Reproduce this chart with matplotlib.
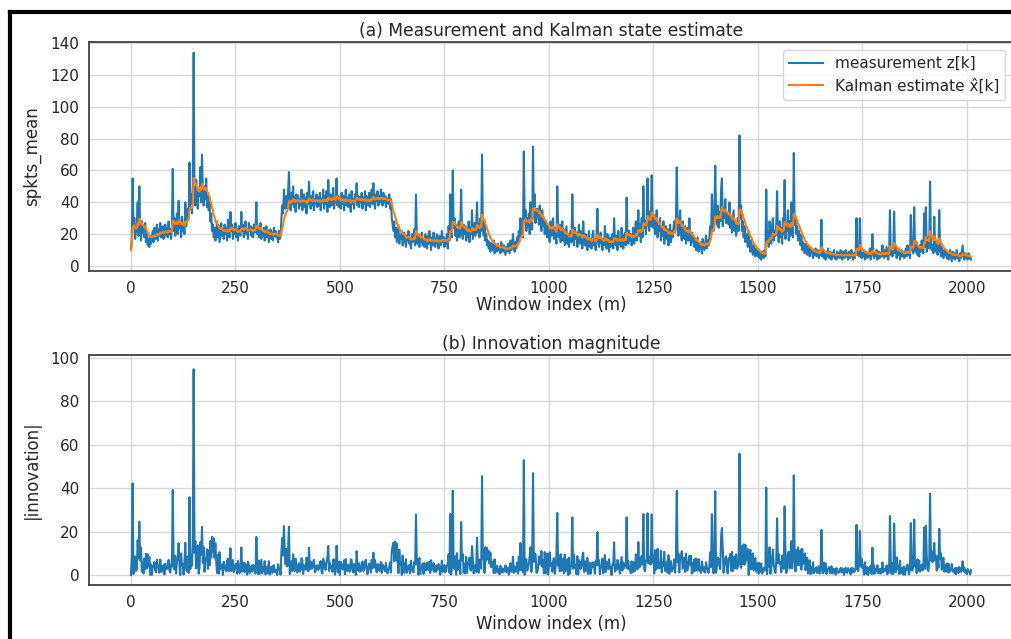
import numpy as np
import matplotlib
matplotlib.use("Agg")
import matplotlib.pyplot as plt
from matplotlib.lines import Line2D

# spkts_mean measurement z[k], one value every 2 windows (0..2010)
z_meas = [
    10, 18, 55, 24, 30, 17, 22, 26, 40, 19, 50, 23, 16, 28, 21, 25, 18, 27, 15, 20, 13, 17, 12, 19, 14,
    18, 22, 15, 24, 17, 20, 26, 16, 23, 19, 27, 18, 22, 25, 17, 21, 26, 19, 24, 18, 28, 20, 23, 17, 25,
    61, 22, 30, 19, 27, 33, 20, 41, 24, 28, 18, 31, 22, 26, 20, 40, 25, 29, 36, 30, 65, 38, 45, 33, 52,
    134, 45, 38, 54, 41, 36, 48, 44, 62, 40, 70, 46, 38, 50, 42, 55, 37, 44, 35, 40, 28, 33, 22, 26, 18,
    24, 16, 22, 28, 18, 25, 15, 21, 27, 19, 23, 17, 26, 20, 24, 16, 29, 21, 18, 34, 22, 26, 17, 24, 20,
    27, 18, 23, 16, 25, 21, 19, 34, 22, 26, 18, 24, 28, 20, 23, 17, 27, 22, 25, 19, 24, 18, 26, 21, 23,
    40, 20, 25, 18, 23, 27, 17, 22, 19, 24, 16, 21, 25, 18, 22, 15, 20, 23, 17, 21, 16, 24, 19, 22, 18,
    20, 15, 22, 17, 19, 30, 38, 33, 48, 40, 36, 44, 38, 47, 59, 41, 35, 46, 39, 50, 37, 43, 34, 45, 40,
    44, 36, 42, 38, 48, 35, 41, 45, 37, 43, 33, 46, 39, 53, 40, 36, 44, 38, 47, 35, 42, 39, 45, 37, 43,
    38, 46, 35, 42, 40, 48, 36, 44, 39, 47, 34, 54, 41, 37, 45, 38, 43, 49, 36, 42, 40, 55, 38, 44, 37,
    42, 36, 46, 39, 44, 35, 41, 48, 38, 43, 37, 45, 40, 34, 47, 39, 42, 36, 45, 41, 52, 38, 44, 37, 43,
    40, 46, 36, 43, 39, 47, 35, 44, 41, 38, 46, 37, 42, 48, 39, 52, 40, 36, 45, 41, 47, 38, 44, 40, 48,
    42, 38, 46, 40, 44, 37, 43, 41, 39, 45, 36, 42, 30, 26, 22, 28, 18, 24, 15, 20, 25, 14, 19, 17, 22,
    13, 18, 21, 15, 12, 19, 16, 22, 14, 17, 11, 20, 15, 18, 23, 13, 45, 17, 14, 20, 12, 18, 15, 21, 13,
    17, 12, 20, 15, 11, 19, 14, 22, 16, 10, 18, 13, 21, 15, 12, 17, 20, 14, 11, 19, 16, 13, 22, 15, 18,
    12, 17, 14, 20, 11, 25, 16, 45, 22, 18, 60, 24, 30, 19, 26, 16, 22, 28, 18, 24, 48, 21, 17, 26, 20,
    25, 16, 22, 18, 28, 15, 24, 20, 35, 17, 22, 27, 19, 24, 40, 21, 26, 18, 30, 22, 70, 25, 19, 28, 16,
    20, 13, 16, 11, 15, 9, 14, 12, 10, 16, 8, 13, 11, 9, 14, 10, 12, 8, 15, 11, 9, 13, 10, 7, 12,
    9, 14, 11, 8, 16, 10, 13, 20, 12, 9, 15, 11, 18, 14, 22, 17, 30, 20, 25, 18, 72, 28, 35, 22, 30,
    25, 33, 20, 40, 28, 23, 75, 30, 45, 27, 34, 36, 32, 26, 38, 29, 22, 35, 25, 30, 20, 28, 24, 18, 26,
    22, 15, 28, 19, 25, 30, 17, 24, 20, 14, 50, 22, 18, 26, 15, 21, 28, 16, 23, 13, 19, 25, 14, 20, 12,
    18, 22, 15, 45, 20, 13, 24, 17, 21, 12, 19, 26, 14, 22, 16, 11, 28, 18, 13, 20, 15, 10, 17, 22, 12,
    16, 11, 19, 22, 13, 17, 10, 20, 36, 15, 12, 18, 21, 14, 10, 17, 13, 25, 16, 11, 20, 14, 9, 18, 12,
    15, 20, 11, 30, 16, 13, 19, 10, 22, 14, 17, 12, 24, 15, 11, 19, 21, 13, 43, 18, 14, 22, 16, 20, 13,
    17, 24, 14, 20, 28, 16, 22, 35, 19, 26, 15, 30, 18, 50, 24, 28, 20, 32, 55, 26, 22, 34, 25, 57, 28,
    24, 32, 20, 27, 35, 18, 25, 22, 30, 16, 24, 19, 28, 14, 21, 25, 17, 23, 13, 20, 26, 15, 22, 18, 24,
    28, 21, 30, 62, 24, 19, 26, 35, 20, 16, 28, 22, 17, 25, 14, 20, 24, 16, 30, 18, 13, 21, 15, 18, 12,
    16, 10, 14, 18, 9, 13, 11, 15, 8, 17, 12, 10, 14, 19, 11, 16, 13, 18, 25, 20, 45, 28, 22, 33, 63,
    30, 26, 38, 24, 34, 28, 48, 55, 25, 36, 30, 42, 27, 32, 33, 26, 40, 24, 30, 21, 28, 35, 22, 26, 19,
    24, 30, 22, 82, 30, 38, 22, 28, 18, 25, 15, 20, 17, 12, 22, 14, 9, 16, 11, 7, 13, 9, 6, 11, 8,
    6, 10, 5, 8, 4, 9, 7, 5, 10, 6, 48, 15, 22, 12, 28, 18, 14, 25, 30, 16, 22, 19, 26, 47, 20,
    15, 28, 18, 24, 14, 30, 20, 54, 17, 25, 22, 35, 16, 28, 19, 40, 24, 18, 71, 26, 30, 20, 25, 16, 22,
    18, 13, 20, 10, 15, 12, 8, 14, 11, 7, 13, 9, 6, 12, 8, 10, 5, 9, 7, 11, 6, 8, 10, 5, 9,
    7, 29, 6, 10, 5, 8, 4, 9, 6, 11, 5, 7, 9, 4, 8, 6, 10, 5, 7, 4, 9, 6, 8, 5, 10,
    6, 4, 9, 7, 5, 10, 6, 8, 4, 9, 5, 7, 10, 6, 4, 8, 5, 9, 30, 7, 12, 6, 30, 9, 5,
    8, 6, 10, 4, 7, 9, 5, 8, 6, 11, 4, 7, 20, 9, 5, 8, 6, 10, 4, 7, 9, 5, 8, 6, 13,
    7, 5, 10, 6, 12, 8, 4, 9, 35, 7, 11, 6, 10, 34, 8, 12, 5, 9, 7, 11, 4, 8, 10, 6, 9,
    5, 8, 11, 6, 13, 7, 9, 5, 32, 10, 14, 8, 37, 12, 9, 15, 7, 11, 6, 13, 9, 16, 10, 8, 33,
    12, 37, 9, 14, 18, 11, 53, 15, 10, 13, 8, 31, 12, 9, 14, 7, 11, 35, 10, 6, 12, 8, 5, 10, 7,
    9, 5, 8, 4, 7, 10, 6, 3, 9, 5, 8, 4, 7, 10, 5, 6, 3, 8, 5, 9, 13, 6, 4, 8, 5,
    7, 4, 8, 5, 6, 4,
]
window_idx = np.arange(len(z_meas)) * 2

# scalar Kalman filter, random-walk state model
Q, R = 3.5, 100.0
z = np.array(z_meas, dtype=float)
x_hat = np.zeros_like(z)
innov = np.zeros_like(z)
x, P = z[0], 100.0
for k in range(len(z)):
    x_prior = x
    P_prior = P + Q if k > 0 else P
    innov[k] = z[k] - x_prior
    K = P_prior / (P_prior + R)
    x = x_prior + K * innov[k]
    P = (1 - K) * P_prior
    x_hat[k] = x

blue = "#1f77b4"
orange = "#ff7f0e"
dark = "#262626"

plt.rcParams.update({
    "font.family": "DejaVu Sans",
    "axes.edgecolor": "#3a3a3a",
    "axes.linewidth": 1.25,
    "grid.color": "#d8d8d8",
    "grid.linewidth": 1.0,
    "xtick.major.size": 0,
    "ytick.major.size": 0,
    "xtick.major.pad": 7,
    "ytick.major.pad": 7,
    "xtick.color": dark,
    "ytick.color": dark,
    "axes.labelcolor": dark,
    "text.color": dark,
})

fig = plt.figure(figsize=(10.11, 6.39), dpi=100)
ax1 = fig.add_axes([0.088, 0.576, 0.914, 0.358])
ax2 = fig.add_axes([0.088, 0.0845, 0.914, 0.36])

ax1.plot(window_idx, z, color=blue, lw=1.5, label="measurement z[k]")
ax1.plot(window_idx, x_hat, color=orange, lw=1.5, label="Kalman estimate x\u0302[k]")
ax1.set_ylim(-3.1, 140.6)
ax1.set_yticks(np.arange(0, 141, 20))
ax1.set_title("(a) Measurement and Kalman state estimate", fontsize=12.3, pad=4.5)
ax1.set_ylabel("spkts_mean", fontsize=12, labelpad=7)
ax1.set_xlabel("Window index (m)", fontsize=12, labelpad=0)
ax1.legend(loc="upper right", fontsize=11, framealpha=0.8, edgecolor="#cccccc",
           handlelength=2.2)

ax2.plot(window_idx, np.abs(innov), color=blue, lw=1.5)
ax2.set_ylim(-4.6, 101.4)
ax2.set_yticks(np.arange(0, 101, 20))
ax2.set_title("(b) Innovation magnitude", fontsize=12.3, pad=4.5)
ax2.set_ylabel("|innovation|", fontsize=12, labelpad=7)
ax2.set_xlabel("Window index (m)", fontsize=12)

for ax in (ax1, ax2):
    ax.set_xticks(np.arange(0, 2001, 250))
    ax.grid(True)
    ax.set_axisbelow(True)
    ax.tick_params(labelsize=11)

# black frame on the top and left edges
fig.add_artist(Line2D([0.0095, 1.0], [0.9812, 0.9812], color="black", lw=3, transform=fig.transFigure))
fig.add_artist(Line2D([0.0095, 0.0095], [0.0, 0.9812], color="black", lw=3, transform=fig.transFigure))

fig.savefig("out.png", dpi=100)
